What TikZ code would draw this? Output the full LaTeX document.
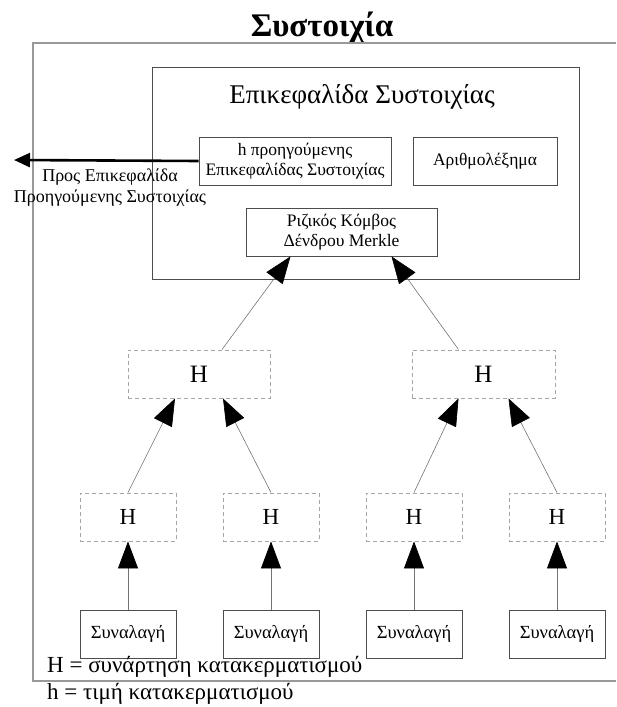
\documentclass[tikz,border=0pt]{standalone}
\usepackage{fontspec}
\setmainfont{Liberation Serif}
\usetikzlibrary{arrows.meta,calc}
\begin{document}
\begin{tikzpicture}[x=1pt,y=-1pt,
  solidbox/.style={draw=black!70, line width=0.8pt, inner sep=0pt, align=center},
  dashbox/.style={draw=black!35, dashed, dash pattern=on 4pt off 3pt, line width=0.9pt, inner sep=0pt},
  arr/.style={draw=black!55, line width=0.6pt, -{Triangle[length=27pt,width=20pt,color=black]}},
  fsA/.style={font=\fontsize{17.5}{20}\selectfont},
  fsH/.style={font=\fontsize{25}{28}\selectfont},
  fsh/.style={font=\fontsize{23}{26}\selectfont},
  fsT/.style={font=\fontsize{18.5}{21}\selectfont}]
\useasboundingbox (0,0) rectangle (616,707);
% title
\node[font=\fontsize{33}{36}\selectfont\bfseries] (title) at (322,28) {Συστοιχία};
% outer box (open to the right)
\draw[draw=black!40, line width=1.2pt] (616,43) -- (33,43) -- (33,681) -- (616,681);
% header box
\node[solidbox, minimum width=427pt, minimum height=212pt] (header) at (365.5,173) {};
\node[font=\fontsize{27}{30}\selectfont] (htitle) at (362,97) {Επικεφαλίδα Συστοιχίας};
\node[solidbox, fsA, minimum width=192pt, minimum height=48pt] (hbox) at (295,161) {h προηγούμενης\\Επικεφαλίδας Συστοιχίας};
\node[solidbox, fsA, minimum width=144pt, minimum height=48pt] (nonce) at (485,161) {Αριθμολέξημα};
\node[solidbox, fsA, minimum width=191pt, minimum height=48pt] (root) at (341.5,232) {Ριζικός Κόμβος\\Δένδρου Merkle};
% left arrow
\coordinate (prev) at (14,160);
\draw[line width=2.6pt, -{Triangle[length=16pt,width=14pt]}] (hbox.west) -- (prev);
\node[font=\fontsize{18}{21}\selectfont, align=center] (prevtxt) at (110,188) {Προς Επικεφαλίδα\\Προηγούμενης Συστοιχίας};
% level 1
\node[dashbox, fsH, minimum width=142pt, minimum height=48pt] (L1a) at (199,374) {H};
\node[dashbox, fsH, minimum width=143pt, minimum height=48pt] (L1b) at (483.5,374) {H};
% level 2
\node[dashbox, fsh, minimum width=96pt, minimum height=48pt] (L2a) at (128,517) {H};
\node[dashbox, fsh, minimum width=96pt, minimum height=48pt] (L2b) at (271,517) {H};
\node[dashbox, fsh, minimum width=96pt, minimum height=48pt] (L2c) at (414,517) {H};
\node[dashbox, fsh, minimum width=96pt, minimum height=48pt] (L2d) at (557,517) {H};
% transactions
\node[solidbox, fsT, minimum width=96pt, minimum height=48pt] (T1) at (128,634) {Συναλαγή};
\node[solidbox, fsT, minimum width=96pt, minimum height=48pt] (T2) at (271,634) {Συναλαγή};
\node[solidbox, fsT, minimum width=96pt, minimum height=48pt] (T3) at (414,634) {Συναλαγή};
\node[solidbox, fsT, minimum width=96pt, minimum height=48pt] (T4) at (557,634) {Συναλαγή};
% arrows
\draw[arr] ([xshift=23pt]L1a.north) -- ([xshift=-51pt]root.south);
\draw[arr] ([xshift=-25pt]L1b.north) -- ([xshift=50pt]root.south);
\draw[arr] (L2a.north) -- ([xshift=-24pt]L1a.south);
\draw[arr] (L2b.north) -- ([xshift=24pt]L1a.south);
\draw[arr] (L2c.north) -- ([xshift=-25pt]L1b.south);
\draw[arr] (L2d.north) -- ([xshift=25pt]L1b.south);
\draw[arr] (T1.north) -- (L2a.south);
\draw[arr] (T2.north) -- (L2b.south);
\draw[arr] (T3.north) -- (L2c.south);
\draw[arr] (T4.north) -- (L2d.south);
% legend
\node[font=\fontsize{23}{25}\selectfont, anchor=west, inner sep=0pt] (leg1) at (47,667) {H = συνάρτηση κατακερματισμού};
\node[font=\fontsize{23}{25}\selectfont, anchor=west, inner sep=0pt] (leg2) at (47,694) {h = τιμή κατακερματισμού};
\end{tikzpicture}
\end{document}
